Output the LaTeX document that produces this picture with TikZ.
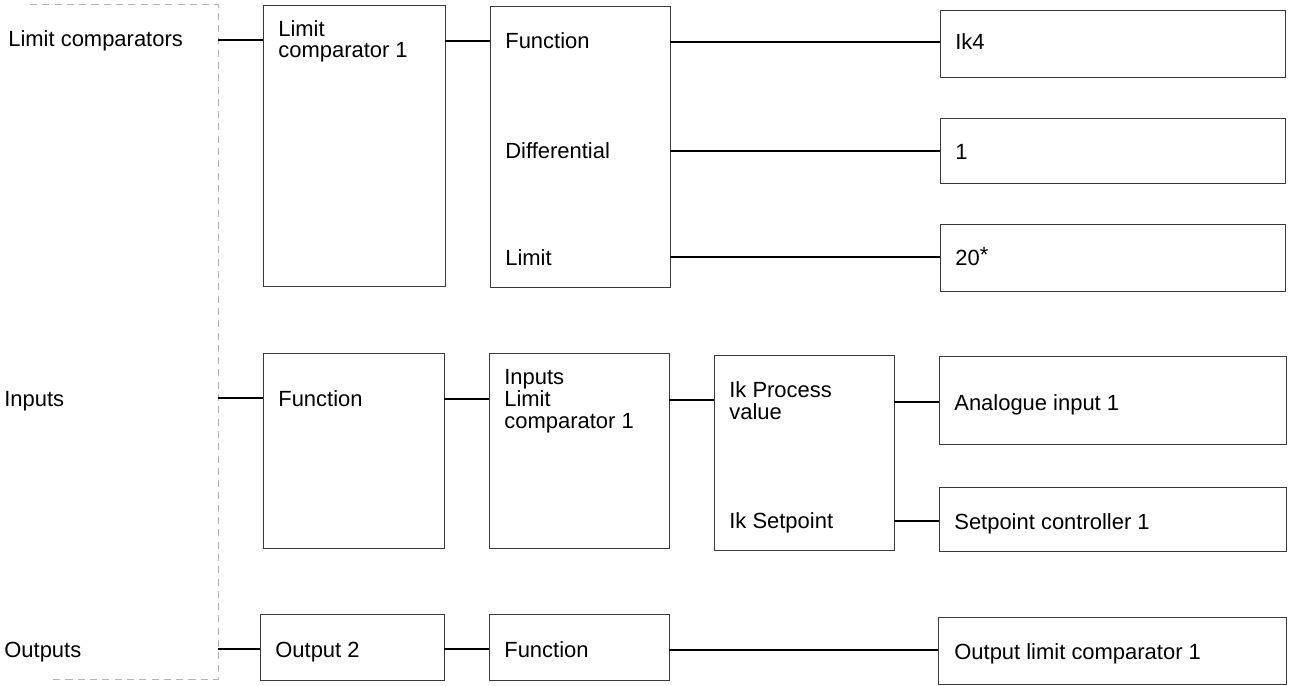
\documentclass[tikz,border=0pt]{standalone}
\usepackage{fontspec}
\setmainfont{Liberation Sans}
\usetikzlibrary{fit}
\definecolor{frame}{HTML}{3A3A3A}
\definecolor{faint}{HTML}{B4B4B4}

\begin{document}
\begin{tikzpicture}[x=0.02cm,y=-0.02cm,
    box/.style={draw=frame,line width=0.5pt,inner sep=0pt},
    txt/.style={inner sep=0pt,anchor=base west,align=left,font=\fontsize{12.5}{12.5}\selectfont},
    wire/.style={line width=0.9pt}]
  \useasboundingbox (0,0) rectangle (1292,686);
  % faint bracket round the group labels
  \draw[faint,line width=0.5pt,dash pattern=on 4pt off 3pt] (30,4) -- (218,4) -- (218,679) -- (50,679);
  \coordinate (ga) at (218,40);
  \coordinate (gb) at (218,398);
  \coordinate (gc) at (218,649);

  % group labels
  \node[txt] (lim) at (8,47) {Limit comparators};
  \node[txt] (inp) at (4,406) {Inputs};
  \node[txt] (out) at (4,657) {Outputs};

  % limit comparators (base = last line)
  \node[box,fit={(263,5) (445,286)}] (lc) {};
  \node[txt] (lct) at (278,58) {Limit\\comparator 1};
  \node[box,fit={(490,6) (670,287)}] (fs) {};
  \foreach \n/\y/\t in {fn/49/Function, df/158/Differential, lm/265/Limit}
    \node[txt] (\n) at (505,\y) {\t};
  \foreach \n/\top/\bot/\y/\t in {va/10/77/50/Ik4, vb/118/183/159/1, vc/224/291/265/20\raisebox{1.5pt}{*}}{
    \node[box,fit={(940,\top) (1285,\bot)}] (\n) {};
    \node[txt] (\n t) at (955,\y) {\t};
  }
  \draw[wire] (ga) -- (ga -| lc.west);
  \draw[wire] (lc.east |- 0,41) -- (fs.west |- 0,41);
  \foreach \y/\v in {42/va,151/vb,257/vc}
    \draw[wire] (fs.east |- 0,\y) -- (\v.west |- 0,\y);

  % inputs
  \node[box,fit={(263,353) (444,548)}] (f2) {};
  \node[txt] (f2t) at (278,406) {Function};
  \node[box,fit={(489,353) (669,548)}] (il) {};
  \node[txt] (ilt) at (504,428) {Inputs\\Limit\\comparator 1};
  \node[box,fit={(714,355) (894,550)}] (ik) {};
  \node[txt] (pv) at (729,419) {Ik Process\\value};
  \node[txt] (sp) at (729,528) {Ik Setpoint};
  \node[box,fit={(939,356) (1286,444)}] (an) {};
  \node[txt] (ant) at (954,410) {Analogue input 1};
  \node[box,fit={(939,487) (1286,551)}] (sc) {};
  \node[txt] (sct) at (954,529) {Setpoint controller 1};
  \draw[wire] (gb) -- (gb -| f2.west);
  \draw[wire] (f2.east |- 0,399) -- (il.west |- 0,399);
  \draw[wire] (il.east |- 0,400) -- (ik.west |- 0,400);
  \draw[wire] (ik.east |- 0,402) -- (an.west |- 0,402);
  \draw[wire] (ik.east |- 0,521) -- (sc.west |- 0,521);

  % outputs
  \node[box,fit={(260,614) (444,680)}] (o2) {};
  \node[txt] (o2t) at (275,657) {Output 2};
  \node[box,fit={(489,614) (669,680)}] (f3) {};
  \node[txt] (f3t) at (504,657) {Function};
  \node[box,fit={(938,617) (1286,684)}] (ol) {};
  \node[txt] (olt) at (954,659) {Output limit comparator 1};
  \draw[wire] (gc) -- (gc -| o2.west);
  \draw[wire] (o2.east |- 0,649) -- (f3.west |- 0,649);
  \draw[wire] (f3.east |- 0,650) -- (ol.west |- 0,650);
\end{tikzpicture}
\end{document}
